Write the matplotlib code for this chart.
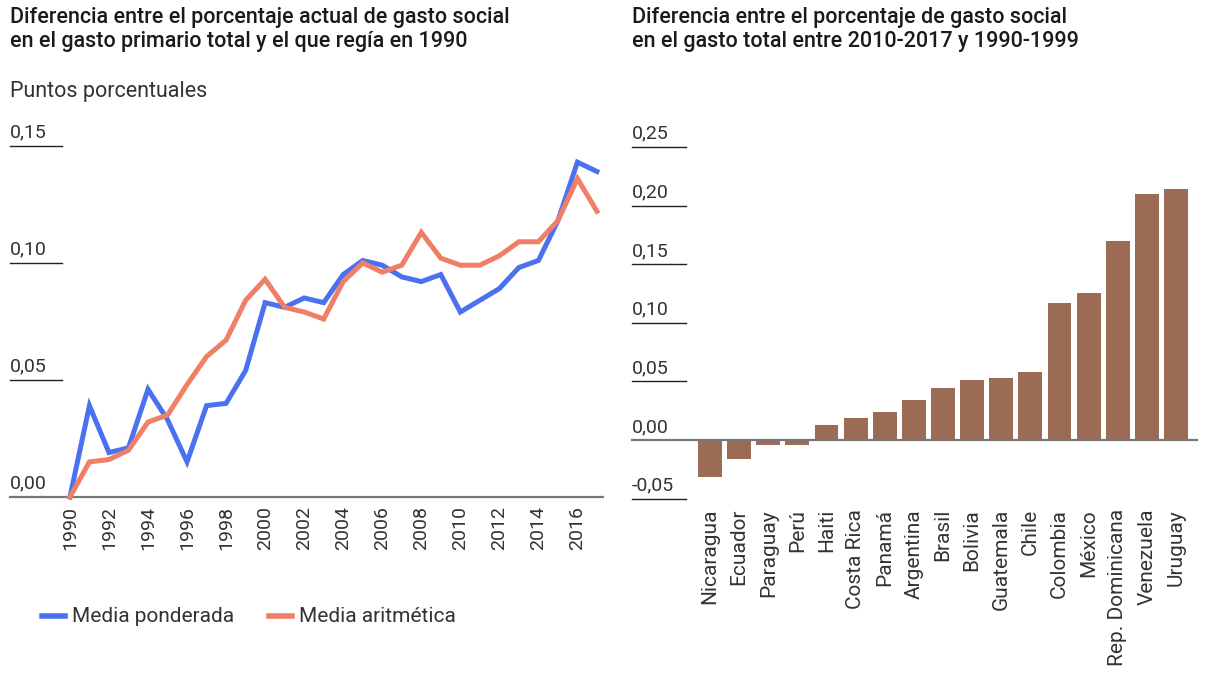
import matplotlib
matplotlib.use("Agg")
import matplotlib.pyplot as plt
import matplotlib.transforms as mtransforms

plt.rcParams['font.family'] = ['Roboto', 'DejaVu Sans']

years = list(range(1990, 2018))
media_ponderada = [0.000, 0.039, 0.019, 0.021, 0.046, 0.033, 0.015, 0.039, 0.040, 0.054,
                   0.083, 0.081, 0.085, 0.083, 0.095, 0.101, 0.099, 0.094, 0.092, 0.095,
                   0.079, 0.084, 0.089, 0.098, 0.101, 0.118, 0.143, 0.139]
media_aritmetica = [0.000, 0.015, 0.016, 0.020, 0.032, 0.035, 0.048, 0.060, 0.067, 0.084,
                    0.093, 0.081, 0.079, 0.076, 0.092, 0.100, 0.096, 0.099, 0.113, 0.102,
                    0.099, 0.099, 0.103, 0.109, 0.109, 0.118, 0.136, 0.122]
year_ticks = list(range(1990, 2017, 2))
left_yticks = [0.00, 0.05, 0.10, 0.15]
left_ylabels = ["0,00", "0,05", "0,10", "0,15"]

paises = ["Nicaragua", "Ecuador", "Paraguay", "Perú", "Haiti", "Costa Rica", "Panamá",
          "Argentina", "Brasil", "Bolivia", "Guatemala", "Chile", "Colombia", "México",
          "Rep. Dominicana", "Venezuela", "Uruguay"]
diferencia = [-0.0315, -0.0165, -0.004, -0.004, 0.0125, 0.019, 0.024, 0.034, 0.044,
              0.051, 0.053, 0.058, 0.117, 0.125, 0.170, 0.210, 0.214]
right_yticks = [-0.05, 0.00, 0.05, 0.10, 0.15, 0.20, 0.25]
right_ylabels = ["-0,05", "0,00", "0,05", "0,10", "0,15", "0,20", "0,25"]

BLUE = "#4a72f0"
ORANGE = "#ef7f66"
BROWN = "#9c6b55"
TXT = "#1a1a1a"
LBL = "#333333"

W, H = 1205, 673
fig = plt.figure(figsize=(W / 100, H / 100), dpi=100)


def fx(px):
    return px / W


def fy(py):
    return 1 - py / H


# ---------------- left chart ----------------
axL = fig.add_axes([fx(10), fy(501.7), fx(593), fy(120) - fy(501.7)])
for s in axL.spines.values():
    s.set_visible(False)
axL.plot(years, media_ponderada, color=BLUE, lw=3.6, solid_joinstyle='miter', zorder=3, clip_on=False)
axL.plot(years, media_aritmetica, color=ORANGE, lw=3.6, solid_joinstyle='miter', zorder=3, clip_on=False)
axL.set_xlim(1986.93, 2017.31)
axL.set_ylim(-0.002, 0.161)
axL.set_yticks([])
axL.set_xticks(year_ticks)
axL.set_xticklabels([str(y) for y in year_ticks], rotation=90, fontsize=14, color=LBL)
axL.tick_params(axis='x', length=0, pad=3)
trL = mtransforms.blended_transform_factory(axL.transAxes, axL.transData)
for v, lab in zip(left_yticks, left_ylabels):
    if v == 0:
        axL.plot([0, 1], [v, v], transform=trL, color="#777777", lw=1.6, zorder=2, clip_on=False)
    else:
        axL.plot([0, 0.088], [v, v], transform=trL, color="#222222", lw=1.0, clip_on=False)
    axL.text(0.0, v + 0.0018, lab, transform=trL, fontsize=14, color=LBL, ha='left', va='bottom')

fig.text(fx(10), fy(18), "Diferencia entre el porcentaje actual de gasto social",
         fontsize=15.5, fontweight='medium', color=TXT, ha='left', va='center')
fig.text(fx(10), fy(41), "en el gasto primario total y el que regía en 1990",
         fontsize=15.5, fontweight='medium', color=TXT, ha='left', va='center')
fig.text(fx(10), fy(91), "Puntos porcentuales", fontsize=15.5, color=LBL, ha='left', va='center')

# legend
fig.lines.append(plt.Line2D([fx(42), fx(65)], [fy(616), fy(616)], transform=fig.transFigure,
                            color=BLUE, lw=4))
fig.text(fx(72), fy(616), "Media ponderada", fontsize=15, color=LBL, ha='left', va='center')
fig.lines.append(plt.Line2D([fx(269), fx(292)], [fy(616), fy(616)], transform=fig.transFigure,
                            color=ORANGE, lw=4))
fig.text(fx(299), fy(616), "Media aritmética", fontsize=15, color=LBL, ha='left', va='center')

# ---------------- right chart ----------------
axR = fig.add_axes([fx(632), fy(502), fx(565), fy(120) - fy(502)])
for s in axR.spines.values():
    s.set_visible(False)
xs = list(range(len(paises)))
axR.bar(xs, diferencia, width=0.82, color=BROWN, zorder=2)
axR.set_xlim(-2.68, 16.72)
axR.set_ylim(-0.0529, 0.273)
axR.set_yticks([])
axR.set_xticks(xs)
axR.set_xticklabels(paises, rotation=90, fontsize=15, color=LBL)
axR.tick_params(axis='x', length=0, pad=5)
trR = mtransforms.blended_transform_factory(axR.transAxes, axR.transData)
for v, lab in zip(right_yticks, right_ylabels):
    if v == 0:
        axR.plot([0, 1], [v, v], transform=trR, color="#777777", lw=1.6, zorder=3, clip_on=False)
    else:
        axR.plot([0, 0.095], [v, v], transform=trR, color="#222222", lw=1.0, clip_on=False)
    axR.text(0.0, v + 0.0035, lab, transform=trR, fontsize=14, color=LBL, ha='left', va='bottom')

fig.text(fx(632), fy(18), "Diferencia entre el porcentaje de gasto social",
         fontsize=15.5, fontweight='medium', color=TXT, ha='left', va='center')
fig.text(fx(632), fy(41), "en el gasto total entre 2010-2017 y 1990-1999",
         fontsize=15.5, fontweight='medium', color=TXT, ha='left', va='center')

fig.savefig("out.png", dpi=100)
